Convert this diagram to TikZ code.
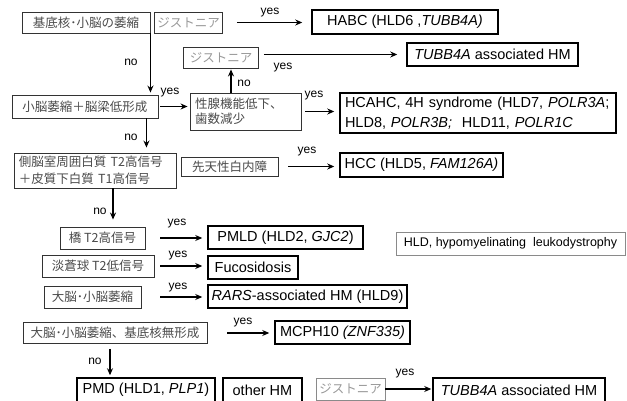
\documentclass[tikz,border=0pt]{standalone}
\usepackage{fontspec}
\setmainfont{Liberation Sans}
\newfontfamily\jp{Noto Sans CJK JP}
\usetikzlibrary{arrows.meta}
\definecolor{jline}{HTML}{333333}
\definecolor{jtext}{HTML}{4A4A4A}
\definecolor{jgray}{HTML}{999999}
\definecolor{gline}{HTML}{8A8A8A}
\begin{document}
\begin{tikzpicture}[x=1pt,y=-1pt,
  jbox/.style={draw=jline,line width=0.9pt,text=jtext,font=\jp\fontsize{12.5}{16}\selectfont,inner sep=2pt},
  gbox/.style={jbox,text=jgray},
  obox/.style={draw=black,line width=1.5pt,font=\fontsize{14.5}{20}\selectfont,inner sep=2pt},
  arr/.style={-{Stealth[length=7pt,width=6pt]},line width=1.3pt},
  lab/.style={font=\fontsize{12}{12}\selectfont,inner sep=0pt}]
\useasboundingbox (0,0) rectangle (627,401);
% boxes
\node[jbox,minimum width=128pt,minimum height=21pt] (b1) at (86,22.5) {基底核･小脳の萎縮};
\node[gbox,minimum width=68pt,minimum height=21pt] (d1) at (188.5,22.5) {ジストニア};
\node[obox,minimum width=186pt,minimum height=24pt] (habc) at (405,22) {HABC (HLD6 ,\textit{TUBB4A)}};
\node[gbox,minimum width=75pt,minimum height=21pt] (d2) at (221,57.5) {ジストニア};
\node[obox,minimum width=171pt,minimum height=23pt] (tubb1) at (492.5,54.5) {\textit{TUBB4A} associated HM};
\node[jbox,minimum width=146pt,minimum height=23pt] (b2) at (85,106.5) {小脳萎縮＋脳梁低形成};
\node[jbox,minimum width=111pt,minimum height=37pt,text width=101pt,align=left,font=\jp\fontsize{12.5}{15.5}\selectfont] (b3) at (245.5,111.5) {性腺機能低下、\\歯数減少};
\node[obox,minimum width=276pt,minimum height=40pt,text width=266pt,align=left] (hcahc) at (478,113) {HCAHC, 4H syndrome (HLD7, \textit{POLR3A};\\HLD8, \textit{POLR3B;}\ \ HLD11, \textit{POLR1C}};
\node[jbox,minimum width=162pt,minimum height=35pt,text width=152pt,align=left,font=\jp\fontsize{12.5}{17}\selectfont] (b4) at (95,170.5) {側脳室周囲白質 T2高信号\\＋皮質下白質 T1高信号};
\node[jbox,minimum width=97pt,minimum height=19pt] (b5) at (229.5,166.5) {先天性白内障};
\node[obox,minimum width=163pt,minimum height=24pt] (hcc) at (421.5,165) {HCC (HLD5, \textit{FAM126A)}};
\node[jbox,minimum width=85pt,minimum height=22pt] (b6) at (102.5,238) {橋 T2高信号};
\node[obox,minimum width=155pt,minimum height=23pt] (pmld) at (285.5,237.5) {PMLD (HLD2, \textit{GJC2})};
\node[draw=gline,line width=0.9pt,minimum width=229pt,minimum height=23pt,font=\fontsize{12.5}{14}\selectfont,inner sep=2pt] (leg) at (510.5,243.5) {HLD, hypomyelinating\ \ leukodystrophy};
\node[jbox,minimum width=112pt,minimum height=22pt] (b7) at (98,266) {淡蒼球 T2低信号};
\node[obox,minimum width=90pt,minimum height=23pt] (fuc) at (253,267.5) {Fucosidosis};
\node[jbox,minimum width=97pt,minimum height=22pt] (b8) at (92.5,297) {大脳･小脳萎縮};
\node[obox,minimum width=199pt,minimum height=23pt] (rars) at (307.5,296.5) {\textit{RARS}-associated HM (HLD9)};
\node[jbox,minimum width=184pt,minimum height=21pt] (b9) at (115,333) {大脳･小脳萎縮、基底核無形成};
\node[obox,minimum width=135pt,minimum height=23pt] (mcph) at (342.5,332.5) {MCPH10 \textit{(ZNF335)}};
\node[obox,minimum width=138pt,minimum height=24pt] (pmd) at (146,390) {PMD (HLD1, \textit{PLP1})};
\node[obox,minimum width=79pt,minimum height=24pt] (other) at (262.5,390) {other HM};
\node[gbox,draw=gline,minimum width=69pt,minimum height=22pt] (d3) at (350.5,389) {ジストニア};
\node[obox,minimum width=172pt,minimum height=24pt] (tubb2) at (519,390) {\textit{TUBB4A} associated HM};
% connectors
\draw[arr,shorten <=14pt,shorten >=9pt] (d1.east) -- (d1.east -| habc.west);
\draw[arr,shorten <=5pt,shorten >=9pt] (d2.east |- tubb1.west) -- (tubb1.west);
\draw[arr,shorten >=1pt] ([xshift=10pt]d2.south |- b3.north) -- ([xshift=10pt]d2.south);
\draw[arr,shorten >=2pt] (b1.south east) -- (b1.south east |- b2.north);
\draw[arr,shorten <=2pt,shorten >=2pt] (b2.east) -- (b2.east -| b3.west);
\draw[arr,shorten <=4pt,shorten >=5pt] (b3.east) -- (b3.east -| hcahc.west);
\draw[arr,shorten >=5pt] ([xshift=-12pt]b2.south east) -- ([xshift=-12pt]b2.south east |- b4.north);
\draw[arr,shorten <=10pt,shorten >=5pt] (b5.east) -- (b5.east -| hcc.west);
\draw[arr,shorten >=7pt] ([xshift=18pt]b4.south) -- ([xshift=18pt]b4.south |- b6.north);
\draw[arr,shorten <=15pt,shorten >=5pt] (b6.east) -- (b6.east -| pmld.west);
\draw[arr,shorten <=6pt,shorten >=5pt] (b7.east) -- (b7.east -| fuc.west);
\draw[arr,shorten <=19pt,shorten >=5pt] (b8.east) -- (b8.east -| rars.west);
\draw[arr,shorten <=20pt,shorten >=5pt] (b9.east) -- (b9.east -| mcph.west);
\draw[arr,shorten <=5pt,shorten >=2pt] ([xshift=-5pt]b9.south) -- ([xshift=-5pt]b9.south |- pmd.north);
\draw[arr,shorten >=1pt] (d3.east) -- (d3.east -| tubb2.west);
% labels
\node[lab] (y1) at (270,13) {yes};
\node[lab] (n1) at (131,62) {no};
\node[lab] (y2) at (283,68) {yes};
\node[lab] (n2) at (244,83) {no};
\node[lab] (y3) at (170,93) {yes};
\node[lab] (y4) at (314,96) {yes};
\node[lab] (n3) at (131,137) {no};
\node[lab] (y5) at (307,152) {yes};
\node[lab] (n4) at (100,211) {no};
\node[lab] (y6) at (177,224) {yes};
\node[lab] (y7) at (178,256) {yes};
\node[lab] (y8) at (178,288) {yes};
\node[lab] (y9) at (243,323) {yes};
\node[lab] (n5) at (95,361) {no};
\node[lab] (y10) at (405,374) {yes};
\end{tikzpicture}
\end{document}
